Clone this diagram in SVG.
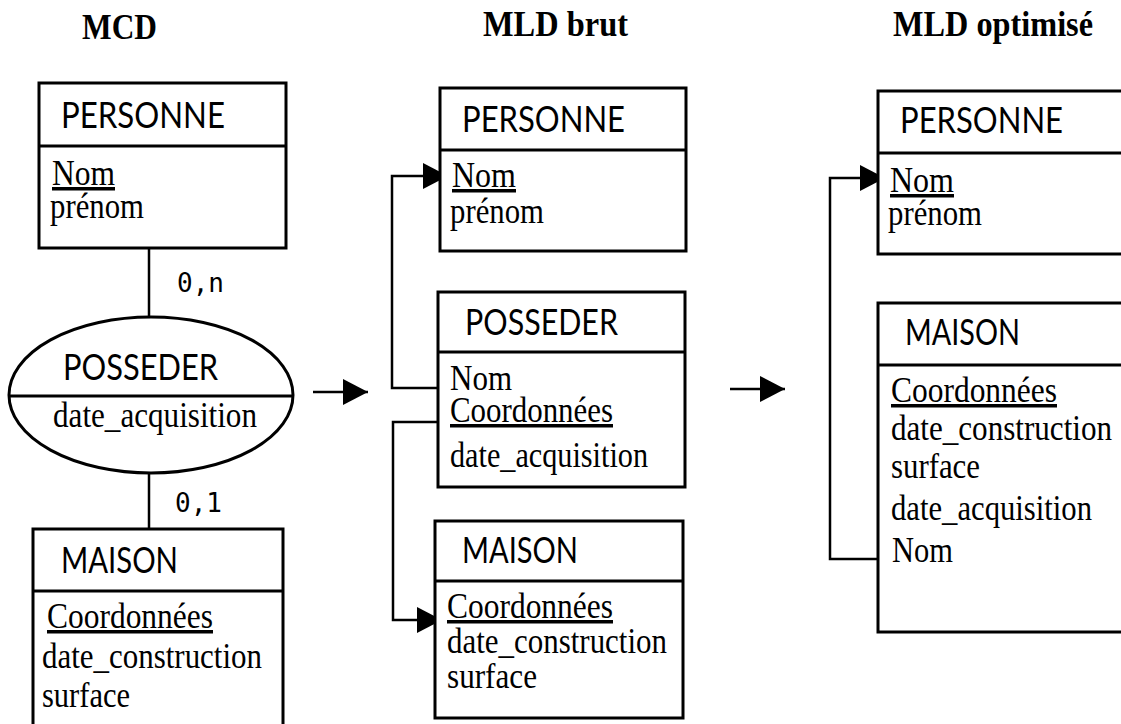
<svg xmlns="http://www.w3.org/2000/svg" width="1121" height="724" viewBox="0 0 1121 724">
<style>
.box{fill:#fff;stroke:#000;stroke-width:3}
.sep{stroke:#000;stroke-width:3}
.title{font-family:"Liberation Serif","Times New Roman",serif;font-weight:bold;font-size:36px;fill:#000}
.ent{font-family:Lato,"Open Sans",sans-serif;font-size:37px;fill:#000}
.att{font-family:"Liberation Serif","Times New Roman",serif;font-size:35px;fill:#000}
.key{text-decoration:underline}
.card{font-family:"DejaVu Sans Mono","Liberation Mono",monospace;font-size:26px;fill:#000}
.con{fill:none;stroke:#000;stroke-width:2.5}
</style>
<defs>
<marker id="tri" markerUnits="userSpaceOnUse" markerWidth="26" markerHeight="28" refX="25" refY="13" orient="auto" viewBox="0 0 26 28">
<path d="M0,0 L25,13 L0,26 z" fill="#000"/>
</marker>
</defs>
<rect width="1121" height="724" fill="#fff"/>

<text class="title" x="82" y="39" textLength="75" lengthAdjust="spacingAndGlyphs">MCD</text>
<text class="title" x="483" y="36" textLength="145" lengthAdjust="spacingAndGlyphs">MLD brut</text>
<text class="title" x="893" y="36" textLength="200" lengthAdjust="spacingAndGlyphs">MLD optimisé</text>

<g id="connectors">
<line class="con" x1="149" y1="248" x2="149" y2="317"/>
<line class="con" x1="149" y1="473" x2="149" y2="529"/>
<text class="card" x="177" y="292">0,n</text>
<text class="card" x="175" y="512">0,1</text>
<path class="con" d="M313,392 H368" marker-end="url(#tri)"/>
<path class="con" d="M730,389 H785" marker-end="url(#tri)"/>
<path class="con" d="M438,388 H392 V176 H448" marker-end="url(#tri)"/>
<path class="con" d="M438,422 H393 V620 H442" marker-end="url(#tri)"/>
<path class="con" d="M878,559 H830 V178 H885" marker-end="url(#tri)"/>
</g>

<g id="mcd-personne">
<rect class="box" x="39" y="83" width="247" height="165"/>
<line class="sep" x1="39" y1="146" x2="286" y2="146"/>
<text class="ent" x="61" y="128" textLength="164" lengthAdjust="spacingAndGlyphs">PERSONNE</text>
<text class="att key" x="52" y="185" textLength="63" lengthAdjust="spacingAndGlyphs">Nom</text>
<text class="att" x="50" y="218" textLength="94" lengthAdjust="spacingAndGlyphs">prénom</text>
</g>

<g id="mcd-posseder">
<ellipse class="box" cx="151" cy="395" rx="142" ry="78"/>
<line class="sep" x1="9" y1="396" x2="293" y2="396"/>
<text class="ent" x="63" y="380" textLength="155" lengthAdjust="spacingAndGlyphs">POSSEDER</text>
<text class="att" x="53" y="427" textLength="204" lengthAdjust="spacingAndGlyphs">date_acquisition</text>
</g>

<g id="mcd-maison">
<rect class="box" x="33" y="529" width="250" height="210"/>
<line class="sep" x1="33" y1="591" x2="283" y2="591"/>
<text class="ent" x="61" y="573" textLength="117" lengthAdjust="spacingAndGlyphs">MAISON</text>
<text class="att key" x="47" y="628" textLength="166" lengthAdjust="spacingAndGlyphs">Coordonnées</text>
<text class="att" x="42" y="668" textLength="220" lengthAdjust="spacingAndGlyphs">date_construction</text>
<text class="att" x="42" y="707" textLength="88" lengthAdjust="spacingAndGlyphs">surface</text>
</g>

<g id="brut-personne">
<rect class="box" x="440" y="88" width="246" height="163"/>
<line class="sep" x1="440" y1="150" x2="686" y2="150"/>
<text class="ent" x="462" y="132" textLength="163" lengthAdjust="spacingAndGlyphs">PERSONNE</text>
<text class="att key" x="452" y="187" textLength="64" lengthAdjust="spacingAndGlyphs">Nom</text>
<text class="att" x="450" y="223" textLength="94" lengthAdjust="spacingAndGlyphs">prénom</text>
</g>

<g id="brut-posseder">
<rect class="box" x="438" y="292" width="247" height="195"/>
<line class="sep" x1="438" y1="352" x2="685" y2="352"/>
<text class="ent" x="465" y="335" textLength="153" lengthAdjust="spacingAndGlyphs">POSSEDER</text>
<text class="att" x="450" y="390" textLength="62" lengthAdjust="spacingAndGlyphs">Nom</text>
<text class="att key" x="450" y="422" textLength="163" lengthAdjust="spacingAndGlyphs">Coordonnées</text>
<text class="att" x="450" y="467" textLength="198" lengthAdjust="spacingAndGlyphs">date_acquisition</text>
</g>

<g id="brut-maison">
<rect class="box" x="435" y="521" width="248" height="197"/>
<line class="sep" x1="435" y1="581" x2="683" y2="581"/>
<text class="ent" x="462" y="563" textLength="116" lengthAdjust="spacingAndGlyphs">MAISON</text>
<text class="att key" x="447" y="618" textLength="166" lengthAdjust="spacingAndGlyphs">Coordonnées</text>
<text class="att" x="447" y="653" textLength="220" lengthAdjust="spacingAndGlyphs">date_construction</text>
<text class="att" x="447" y="688" textLength="90" lengthAdjust="spacingAndGlyphs">surface</text>
</g>

<g id="opt-personne">
<rect class="box" x="878" y="91" width="260" height="163"/>
<line class="sep" x1="878" y1="153" x2="1138" y2="153"/>
<text class="ent" x="900" y="133" textLength="163" lengthAdjust="spacingAndGlyphs">PERSONNE</text>
<text class="att key" x="890" y="192" textLength="64" lengthAdjust="spacingAndGlyphs">Nom</text>
<text class="att" x="888" y="225" textLength="94" lengthAdjust="spacingAndGlyphs">prénom</text>
</g>

<g id="opt-maison">
<rect class="box" x="878" y="303" width="260" height="329"/>
<line class="sep" x1="878" y1="365" x2="1138" y2="365"/>
<text class="ent" x="905" y="345" textLength="115" lengthAdjust="spacingAndGlyphs">MAISON</text>
<text class="att key" x="891" y="402" textLength="166" lengthAdjust="spacingAndGlyphs">Coordonnées</text>
<text class="att" x="891" y="440" textLength="221" lengthAdjust="spacingAndGlyphs">date_construction</text>
<text class="att" x="891" y="478" textLength="89" lengthAdjust="spacingAndGlyphs">surface</text>
<text class="att" x="891" y="520" textLength="201" lengthAdjust="spacingAndGlyphs">date_acquisition</text>
<text class="att" x="892" y="562" textLength="61" lengthAdjust="spacingAndGlyphs">Nom</text>
</g>
</svg>
